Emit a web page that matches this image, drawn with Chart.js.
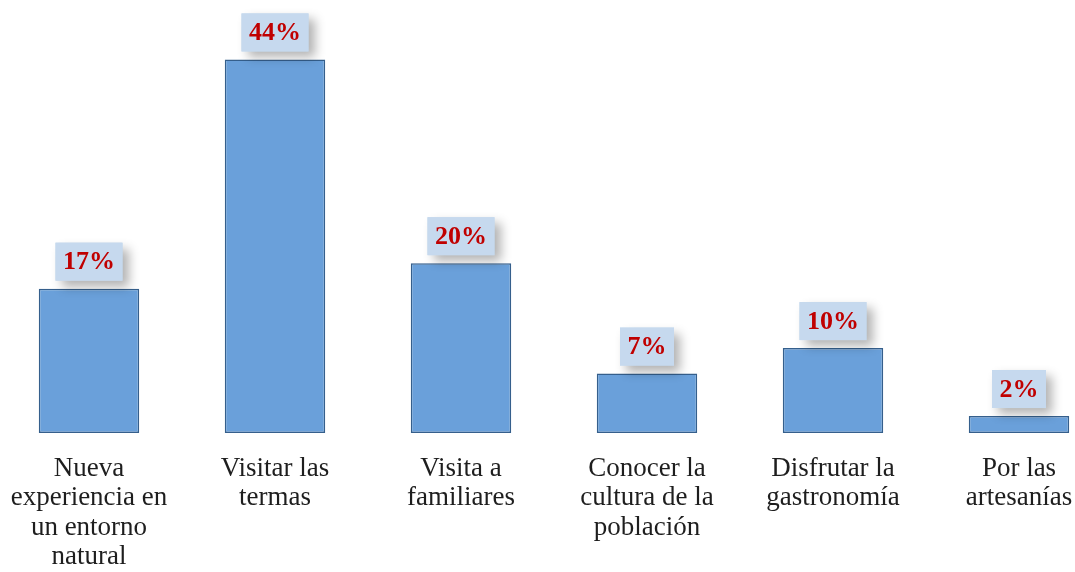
<!DOCTYPE html>
<html>
<head>
<meta charset="utf-8">
<script src="https://cdn.jsdelivr.net/npm/chart.js@4.4.0/dist/chart.umd.min.js"></script>
<style>
  html, body { margin: 0; padding: 0; background: #fff; overflow: hidden; }
  #wrap { position: absolute; left: -4px; top: 0; width: 1116px; height: 585px; }
</style>
</head>
<body>
<div id="wrap"><canvas id="motivos"></canvas></div>
<script>
// categorias (eje x)
const categorias = [
  ["Nueva", "experiencia en", "un entorno", "natural"],
  ["Visitar las", "termas"],
  ["Visita a", "familiares"],
  ["Conocer la", "cultura de la", "población"],
  ["Disfrutar la", "gastronomía"],
  ["Por las", "artesanías"]
];
// porcentajes
const valores = [17, 44, 20, 7, 10, 2];
const etiquetas = ["17%", "44%", "20%", "7%", "10%", "2%"];

// cajitas con el porcentaje encima de cada barra
const etiquetaPlugin = {
  id: "etiquetaPlugin",
  afterDatasetsDraw(chart) {
    const ctx = chart.ctx;
    const meta = chart.getDatasetMeta(0);
    ctx.save();
    ctx.font = "bold 26px 'Liberation Serif', 'Times New Roman', serif";
    ctx.textAlign = "center";
    ctx.textBaseline = "middle";
    meta.data.forEach(function (bar, i) {
      const txt = etiquetas[i];
      const w = ctx.measureText(txt).width + 15;
      const h = 38;
      const x = bar.x - w / 2;
      const y = bar.y - 8 - h;
      // sombra
      ctx.save();
      ctx.shadowColor = "rgba(0,0,0,0.3)";
      ctx.shadowBlur = 10;
      ctx.shadowOffsetX = 6;
      ctx.shadowOffsetY = 6;
      ctx.fillStyle = "#c6d9ee";
      ctx.fillRect(x, y, w, h);
      ctx.restore();
      ctx.fillStyle = "#c6d9ee";
      ctx.fillRect(x, y, w, h);
      ctx.fillStyle = "#c00000";
      ctx.fillText(txt, bar.x, y + h / 2 + 1);
    });
    ctx.restore();
  }
};

const ctx = document.getElementById("motivos");

new Chart(ctx, {
  type: "bar",
  data: {
    labels: categorias,
    datasets: [
      {
        data: valores,
        backgroundColor: "#6aa0da",
        borderColor: "#355f8c",
        borderWidth: 1.5,
        borderSkipped: false,
        barPercentage: 1,
        categoryPercentage: 0.54
      }
    ]
  },
  options: {
    responsive: true,
    maintainAspectRatio: false,
    animation: false,
    layout: { padding: 0 },
    scales: {
      x: {
        grid: { display: false },
        border: { display: false },
        ticks: {
          color: "#1e1e1e",
          padding: 13,
          maxRotation: 0,
          autoSkip: false,
          font: { family: "'Liberation Serif', 'Times New Roman', serif", size: 27, lineHeight: "29.5px" }
        }
      },
      y: {
        display: false,
        min: 0,
        max: 51
      }
    },
    plugins: {
      legend: { display: false },
      tooltip: { enabled: false }
    }
  },
  plugins: [etiquetaPlugin]
});
</script>
</body>
</html>
